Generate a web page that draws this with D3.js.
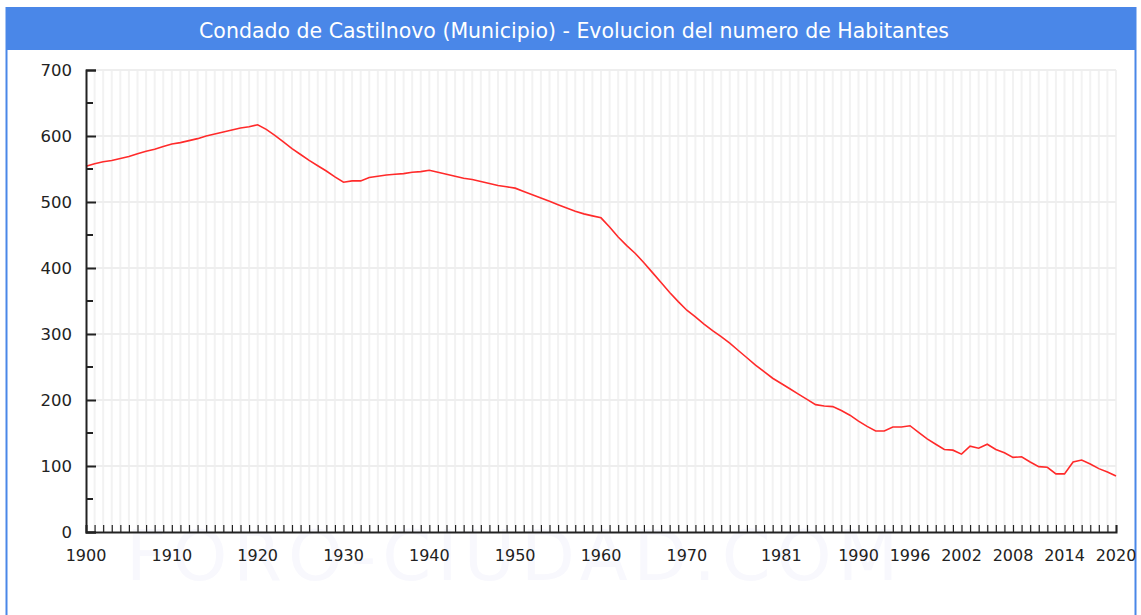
<!DOCTYPE html>
<html>
<head>
<meta charset="utf-8">
<script src="https://cdn.jsdelivr.net/npm/d3@7"></script>
<style>
  body { margin: 0; background: #fff; }
  svg { display: block; font-family: "DejaVu Sans", Verdana, sans-serif; }
</style>
</head>
<body>
<div id="chart"></div>
<script>
// Data
const years = d3.range(1900, 2021);
const habitantes = [
  554, 558, 561, 563, 566, 569, 573, 577, 580, 584,
  588, 590, 593, 596, 600, 603, 606, 609, 612, 614,
  617, 610, 601, 591, 581, 572, 563, 555, 547, 538,
  530, 532, 532, 537, 539, 541, 542, 543, 545, 546,
  548, 545, 542, 539, 536, 534, 531, 528, 525, 523,
  521, 516, 511, 506, 501, 496, 491, 486, 482, 479,
  476, 462, 447, 434, 422, 408, 393, 378, 363, 349,
  336, 326, 315, 305, 296, 286, 275, 264, 253, 243,
  233, 225, 217, 209, 201, 193, 191, 190, 184, 177,
  168, 160, 153, 153, 159, 159, 161, 151, 141, 133,
  125, 124, 118, 130, 127, 133, 125, 120, 113, 114,
  106, 99, 98, 88, 88, 106, 109, 103, 96, 91,
  85
];
const xTickYears = [1900, 1910, 1920, 1930, 1940, 1950, 1960, 1970, 1981, 1990, 1996, 2002, 2008, 2014, 2020];
const yTicks = [0, 100, 200, 300, 400, 500, 600, 700];
const yMinorTicks = [50, 150, 250, 350, 450, 550, 650];
const title = "Condado de Castilnovo (Municipio) - Evolucion del numero de Habitantes";

const W = 1141, H = 615;
const margin = { top: 70, right: 25, bottom: 83, left: 86 };
const plotW = W - margin.left - margin.right;
const plotH = H - margin.top - margin.bottom;

const svg = d3.select("#chart").append("svg")
  .attr("width", W)
  .attr("height", H);

// frame + title bar
svg.append("rect")
  .attr("x", 6).attr("y", 7)
  .attr("width", 1130).attr("height", 43)
  .attr("fill", "#4a87e8");
svg.append("line")
  .attr("x1", 6.5).attr("x2", 6.5).attr("y1", 7).attr("y2", H)
  .attr("stroke", "#4a87e8").attr("stroke-width", 2);
svg.append("line")
  .attr("x1", 1135.5).attr("x2", 1135.5).attr("y1", 7).attr("y2", H)
  .attr("stroke", "#4a87e8").attr("stroke-width", 2);
svg.append("text")
  .attr("x", 574).attr("y", 38)
  .attr("text-anchor", "middle")
  .attr("fill", "#fff")
  .attr("font-size", 20.5)
  .text(title);

// very faint watermark
svg.append("text")
  .attr("x", 515).attr("y", 580)
  .attr("text-anchor", "middle")
  .attr("fill", "#f8f8fd")
  .attr("font-size", 70)
  .attr("letter-spacing", 6)
  .text("FORO-CIUDAD.COM");

const g = svg.append("g")
  .attr("transform", `translate(${margin.left},${margin.top})`);

const x = d3.scaleLinear().domain([1900, 2020]).range([0, plotW]);
const y = d3.scaleLinear().domain([0, 700]).range([plotH, 0]);

// vertical grid every year
g.append("g")
  .selectAll("line")
  .data(years.slice(1))
  .join("line")
  .attr("x1", d => x(d)).attr("x2", d => x(d))
  .attr("y1", 0).attr("y2", plotH)
  .attr("stroke", "#f2f2f2")
  .attr("stroke-width", 2);

// horizontal grid
g.append("g")
  .selectAll("line")
  .data(yTicks.slice(1))
  .join("line")
  .attr("x1", 0).attr("x2", plotW)
  .attr("y1", d => y(d)).attr("y2", d => y(d))
  .attr("stroke", "#eeeeee")
  .attr("stroke-width", 2);

// line
const line = d3.line()
  .x((d, i) => x(years[i]))
  .y(d => y(d));

g.append("path")
  .datum(habitantes)
  .attr("fill", "none")
  .attr("stroke", "#ff2a2a")
  .attr("stroke-width", 1.6)
  .attr("d", line);

// y axis
const yAxis = g.append("g")
  .call(d3.axisRight(y).tickValues(yTicks).tickSize(10).tickFormat(""));
yAxis.select(".domain").attr("stroke", "#222").attr("stroke-width", 2);
yAxis.selectAll(".tick line").attr("stroke", "#222").attr("stroke-width", 2);

g.append("g")
  .selectAll("line")
  .data(yMinorTicks)
  .join("line")
  .attr("x1", 0).attr("x2", 7)
  .attr("y1", d => y(d)).attr("y2", d => y(d))
  .attr("stroke", "#222")
  .attr("stroke-width", 2);

g.append("g")
  .selectAll("text")
  .data(yTicks)
  .join("text")
  .attr("x", -14)
  .attr("y", d => y(d) + 6)
  .attr("text-anchor", "end")
  .attr("font-size", 16.5)
  .attr("fill", "#222")
  .text(d => d);

// x axis
const xAxis = g.append("g")
  .attr("transform", `translate(0,${plotH})`)
  .call(d3.axisTop(x).tickValues(years).tickSize(7).tickFormat(""));
xAxis.select(".domain").attr("stroke", "#222").attr("stroke-width", 2);
xAxis.selectAll(".tick line").attr("stroke", "#222").attr("stroke-width", 1.2);

g.append("g")
  .selectAll("text")
  .data(xTickYears)
  .join("text")
  .attr("x", d => x(d))
  .attr("y", plotH + 29)
  .attr("text-anchor", "middle")
  .attr("font-size", 16)
  .attr("fill", "#222")
  .text(d => d);
</script>
</body>
</html>
